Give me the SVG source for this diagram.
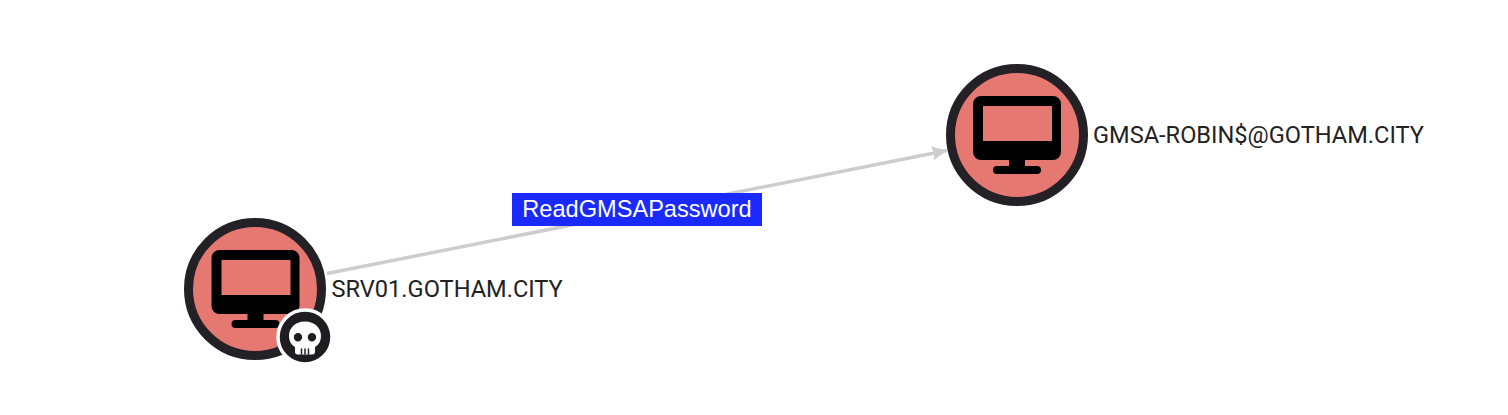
<svg xmlns="http://www.w3.org/2000/svg" width="1508" height="415" viewBox="0 0 1508 415">
<defs>
<style>
.ring{fill:#e67872;stroke:#232026;stroke-width:9}
.lbl{font-family:Roboto,"Liberation Sans",sans-serif;font-size:23.6px;fill:#222}
.edge{fill:none;stroke:#cdcdcd;stroke-width:3.5}
.elbl{font-family:"Liberation Sans",Arial,sans-serif;font-size:23.6px;fill:#fff;text-anchor:middle}
</style>
<marker id="arrow" markerUnits="userSpaceOnUse" markerWidth="16" markerHeight="14" refX="15" refY="7" orient="auto"><path d="M0 0L15 7L0 14L2 7Z" fill="#cdcdcd"/></marker>
<g id="monitor">
<path fill-rule="evenodd" d="M-36-39H36A8 8 0 0 1 44-31V17A8 8 0 0 1 36 25H8V31H20A4 4 0 0 1 20 39H-20A4 4 0 0 1-20 31H-8V25H-36A8 8 0 0 1-44 17V-31A8 8 0 0 1-36-39ZM-34-29V6H35V-29Z" fill="#000"/>
</g>
</defs>
<g id="connectors">
<path class="edge" d="M327 273.500L947 150.500" marker-end="url(#arrow)"/>
<rect x="512" y="193" width="250" height="33" fill="#1a2aff"/>
<text class="elbl" x="637" y="216.500">ReadGMSAPassword</text>
</g>
<g id="node-srv01">
<circle class="ring" cx="255" cy="289" r="66.500"/>
<use href="#monitor" x="255.500" y="289"/>
<circle cx="305" cy="337" r="27" fill="#1f1d22" stroke="#fff" stroke-width="3.500"/>
<path fill="#fff" fill-rule="evenodd" d="M305 321.500C295 321.500 289 328 289 336C289 341 291 344.500 295 347V352C295 353.500 296 354.500 297.500 354.500H312.500C314 354.500 315 353.500 315 352V347C319 344.500 321 341 321 336C321 328 315 321.500 305 321.500ZM298 333A4.200 4.200 0 1 1 297.900 341.400A4.200 4.200 0 0 1 298 333ZM312 333A4.200 4.200 0 1 1 311.900 341.400A4.200 4.200 0 0 1 312 333Z"/>
<path d="M301.500 348.500V354.500M305 348.500V354.500M308.500 348.500V354.500" stroke="#1f1d22" stroke-width="1.500"/>
<text class="lbl" x="331.500" y="297">SRV01.GOTHAM.CITY</text>
</g>
<g id="node-gmsa">
<circle class="ring" cx="1017" cy="135" r="66.500"/>
<use href="#monitor" x="1017" y="135"/>
<text class="lbl" x="1093" y="143">GMSA-ROBIN$@GOTHAM.CITY</text>
</g>
</svg>
